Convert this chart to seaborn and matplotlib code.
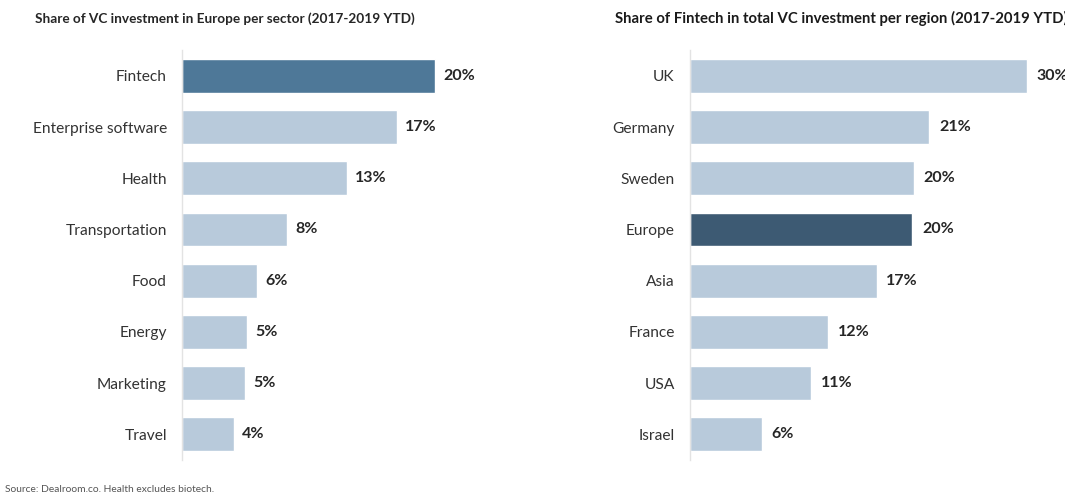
import matplotlib
matplotlib.use("Agg")
import matplotlib.pyplot as plt
import seaborn as sns
import pandas as pd

# data
sectors = ["Fintech", "Enterprise software", "Health", "Transportation",
           "Food", "Energy", "Marketing", "Travel"]
sector_share = [20.0, 17.0, 13.0, 8.3, 5.9, 5.1, 5.0, 4.1]

regions = ["UK", "Germany", "Sweden", "Europe", "Asia", "France", "USA", "Israel"]
region_share = [30.0, 21.3, 19.9, 19.8, 16.6, 12.3, 10.8, 6.4]

light = "#b8cadb"
sector_colors = ["#4e7898"] + [light] * 7
region_colors = [light] * 3 + ["#3d5a73"] + [light] * 4

sns.set_theme(style="white")
plt.rcParams["font.family"] = ["Lato", "DejaVu Sans"]

fig = plt.figure(figsize=(10.65, 4.92), dpi=100)
ax1 = fig.add_axes([0.171, 0.065, 0.297, 0.833])
ax2 = fig.add_axes([0.648, 0.065, 0.348, 0.833])


def draw(ax, cats, vals, colors, xmax):
    df = pd.DataFrame({"cat": cats, "val": vals})
    sns.barplot(data=df, x="val", y="cat", hue="cat", palette=colors,
                legend=False, orient="h", width=0.66, ax=ax, saturation=1)
    ax.set_xlim(0, xmax)
    ax.set_ylim(7.5, -0.5)
    for i, v in enumerate(vals):
        ax.text(v + xmax * 0.026, i, f"{round(v)}%", va="center", ha="left",
                fontsize=11.5, fontweight="bold", color="#262626", clip_on=False)
    ax.set_xlabel("")
    ax.set_ylabel("")
    ax.set_xticks([])
    ax.tick_params(axis="y", length=0, pad=11, labelsize=11.2, labelcolor="#333333")
    for s in ["top", "right", "bottom"]:
        ax.spines[s].set_visible(False)
    ax.spines["left"].set_color("#e3e3e3")
    ax.spines["left"].set_linewidth(1)


draw(ax1, sectors, sector_share, sector_colors, 25)
draw(ax2, regions, region_share, region_colors, 33)

fig.text(0.033, 0.962, "Share of VC investment in Europe per sector (2017-2019 YTD)",
         fontsize=9.8, fontweight="bold", color="#262626", va="center")
fig.text(0.577, 0.962, "Share of Fintech in total VC investment per region (2017-2019 YTD)",
         fontsize=10.7, fontweight="bold", color="#1a1a1a", va="center")
fig.text(0.005, -0.004, "Source: Dealroom.co. Health excludes biotech.",
         fontsize=7.4, color="#555555", va="bottom")

fig.savefig("out.png", dpi=100)
